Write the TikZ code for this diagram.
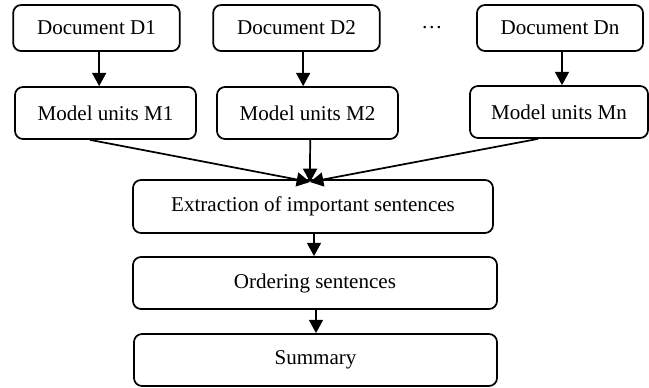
\documentclass[tikz,border=0pt]{standalone}
\usepackage{fontspec}
\setmainfont{Liberation Serif}
\usetikzlibrary{arrows.meta}

\tikzset{every picture/.style={line width=1.3pt}}
\tikzset{
  stage/.style={draw, rounded corners=6pt, inner sep=0.75pt, align=center,
    font=\fontsize{15.8}{18}\selectfont},
  flow/.style={-{Triangle[length=10pt,width=10.5pt]}}
}

\begin{document}
\begin{tikzpicture}[x=0.75pt,y=0.75pt,yscale=-1,xscale=1]
\useasboundingbox (0,0) rectangle (649,387);

% Documents
\node (d1) at (96.5,28) [stage, minimum width=125pt, minimum height=34.5pt] {Document D1};
\node (d2) at (296.5,28) [stage, minimum width=125pt, minimum height=34.5pt] {Document D2};
\node (dots) at (432,28) [font=\fontsize{15.8}{18}\selectfont] {…};
\node (dn) at (560,28) [stage, minimum width=124.5pt, minimum height=34.5pt] {Document Dn};

% Model units
\node (m1) at (105.5,113) [stage, minimum width=135.75pt, minimum height=39pt] {Model units M1};
\node (m2) at (307.5,113) [stage, minimum width=135.75pt, minimum height=39pt] {Model units M2};
\node (mn) at (559,112) [stage, minimum width=133.5pt, minimum height=39pt] {Model units Mn};

% Pipeline
\node (ext) at (313,206.5) [stage, minimum width=270pt, minimum height=39.75pt] {Extraction of important sentences};
\node (ord) at (315,283) [stage, minimum width=273pt, minimum height=39pt] {Ordering sentences};
\node (sum) at (315.5,360) [stage, minimum width=272.25pt, minimum height=39pt] {Summary};

\coordinate (meet) at (310,182);

% Arrows
\draw [flow] ([xshift=2pt]d1.south) -- ([xshift=2pt]d1.south |- m1.north);
\draw [flow] ([xshift=5pt]d2.south) -- ([xshift=5pt]d2.south |- m2.north);
\draw [flow] ([xshift=1.5pt]dn.south) -- ([xshift=1.5pt]dn.south |- mn.north);

\draw [flow] ([xshift=-11.6pt]m1.south) -- (meet);
\draw [flow] ([xshift=2pt]m2.south) -- (meet);
\draw [flow] ([xshift=-15.75pt]mn.south) -- (meet);

\draw [flow] ([xshift=0.75pt]ext.south) -- ([xshift=0.75pt]ext.south |- ord.north);
\draw [flow] ([xshift=0.75pt]ord.south) -- ([xshift=0.75pt]ord.south |- sum.north);

\end{tikzpicture}
\end{document}
